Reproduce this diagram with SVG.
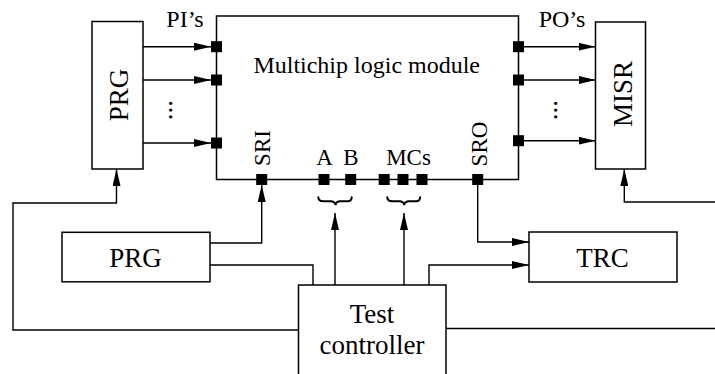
<svg xmlns="http://www.w3.org/2000/svg" width="715" height="374" viewBox="0 0 715 374">
<style>
  .box { fill: #fff; stroke: #000; stroke-width: 1.5; }
  .wire { fill: none; stroke: #000; stroke-width: 1.4; }
  .arr { marker-end: url(#ah); }
  .pin { fill: #000; }
  .brace { fill: none; stroke: #000; stroke-width: 2; stroke-linecap: round; }
  text { font-family: "Liberation Serif", "Times New Roman", serif; fill: #000; }
  .big { font-size: 27px; }
  .mid { font-size: 24px; }
  .sm { font-size: 23px; }
</style>
<defs>
  <marker id="ah" markerWidth="17" markerHeight="8" refX="17" refY="4" orient="auto" markerUnits="userSpaceOnUse">
    <path d="M0,0 L17,4 L0,8 z" fill="#000"/>
  </marker>
</defs>
<rect width="715" height="374" fill="#fff"/>

<g id="connectors">
  <path class="wire arr" d="M143,46.7 H211"/>
  <path class="wire arr" d="M143,80 H211"/>
  <path class="wire arr" d="M143,143 H211"/>
  <path class="wire arr" d="M524,46.7 H595.5"/>
  <path class="wire arr" d="M524,80 H595.5"/>
  <path class="wire arr" d="M524,140.7 H595.5"/>
  <path class="wire arr" d="M299,330 H13 V203 H116.5 V169"/>
  <path class="wire" d="M446,328.5 H715"/>
  <path class="wire arr" d="M715,202 H624.3 V169"/>
  <path class="wire arr" d="M210,243 H261.7 V185"/>
  <path class="wire" d="M210,265 H313 V285"/>
  <path class="wire arr" d="M429,285 V265 H529"/>
  <path class="wire arr" d="M477.7,185 V242 H529"/>
  <path class="wire arr" d="M335,285 V213"/>
  <path class="wire arr" d="M404,285 V213"/>
  <path class="brace" d="M318.3,197.3 q0,4 5,4 h7.2 q4.5,0 5,3.7 q0.5,-3.7 5,-3.7 h7.2 q4,0 4,-4"/>
  <path class="brace" d="M387.3,197.3 q0,4 5,4 h6.9 q4.5,0 5,3.7 q0.5,-3.7 5,-3.7 h6.9 q4,0 4,-4"/>
</g>

<g id="module">
  <rect class="box" x="216.5" y="16" width="302" height="163.5"/>
  <text class="mid" x="366.7" y="73.3" text-anchor="middle">Multichip logic module</text>
  <text class="mid" x="185" y="27" text-anchor="middle">PI’s</text>
  <text class="mid" x="562" y="27" text-anchor="middle">PO’s</text>
  <rect class="pin" x="211" y="41.2" width="11" height="11"/>
  <rect class="pin" x="211" y="74.5" width="11" height="11"/>
  <rect class="pin" x="211" y="137.5" width="11" height="11"/>
  <rect class="pin" x="513" y="41.2" width="11" height="11"/>
  <rect class="pin" x="513" y="74.5" width="11" height="11"/>
  <rect class="pin" x="513" y="135.2" width="11" height="11"/>
  <rect class="pin" x="256.2" y="174" width="11" height="11"/>
  <rect class="pin" x="318.5" y="174" width="11" height="11"/>
  <rect class="pin" x="345.2" y="174" width="11" height="11"/>
  <rect class="pin" x="378.7" y="174" width="11" height="11"/>
  <rect class="pin" x="397.5" y="174" width="11" height="11"/>
  <rect class="pin" x="416.5" y="174" width="11" height="11"/>
  <rect class="pin" x="472.2" y="174" width="11" height="11"/>
  <text class="sm" transform="translate(270,148) rotate(-90)" text-anchor="middle">SRI</text>
  <text class="sm" transform="translate(486.5,144) rotate(-90)" text-anchor="middle">SRO</text>
  <text class="sm" x="324.5" y="165" text-anchor="middle">A</text>
  <text class="sm" x="351" y="165" text-anchor="middle">B</text>
  <text class="sm" x="408.5" y="165" text-anchor="middle">MCs</text>
  <text class="big" transform="translate(169.2,100) rotate(90)">...</text>
  <text class="big" transform="translate(553.7,100) rotate(90)">...</text>
</g>

<g id="prg-top">
  <rect class="box" x="92" y="21.5" width="51" height="147.5"/>
  <text class="big" transform="translate(127.5,95) rotate(-90)" text-anchor="middle">PRG</text>
</g>

<g id="misr">
  <rect class="box" x="595.5" y="22" width="50" height="147"/>
  <text class="big" transform="translate(631.5,94) rotate(-90)" text-anchor="middle">MISR</text>
</g>

<g id="prg-bottom">
  <rect class="box" x="62" y="232.3" width="148" height="49.5"/>
  <text class="big" x="135.5" y="267" text-anchor="middle">PRG</text>
</g>

<g id="trc">
  <rect class="box" x="529" y="232" width="148" height="50"/>
  <text class="big" x="602.5" y="267" text-anchor="middle">TRC</text>
</g>

<g id="test-controller">
  <rect class="box" x="298.5" y="285" width="147.5" height="95"/>
  <text class="big" x="372" y="323" text-anchor="middle">Test</text>
  <text class="big" x="372" y="354" text-anchor="middle">controller</text>
</g>
</svg>
